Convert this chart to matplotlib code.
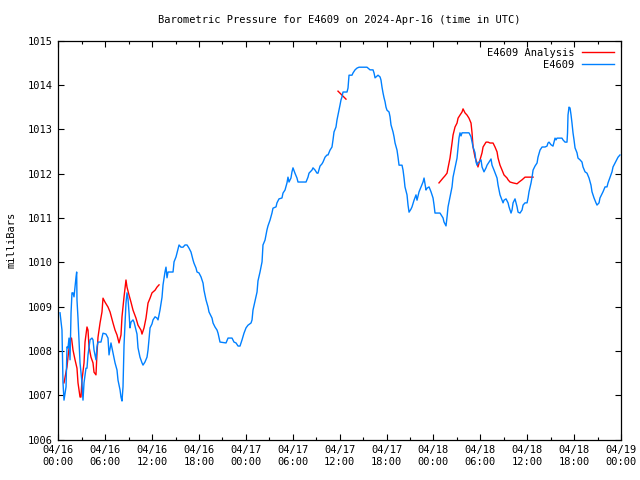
import matplotlib
matplotlib.use("Agg")
import matplotlib.pyplot as plt
from matplotlib.ticker import MultipleLocator

# hours since 2024-04-16 00:00 UTC
obs_hours = [0.22, 0.47, 0.60, 0.73, 0.99, 1.11, 1.24, 1.37, 1.50, 1.63, 1.75, 1.88, 2.01, 2.27, 2.35, 2.39, 2.52, 2.78,
             3.03, 3.16, 3.29, 3.54, 3.67, 3.80, 4.06, 4.31, 4.44, 4.57, 4.82, 4.95, 5.08, 5.46, 5.72, 6.10, 6.36, 6.49,
             6.74, 7.00, 7.26, 7.51, 7.64, 7.90, 8.02, 8.15, 8.28, 8.41, 8.66, 8.79, 8.92, 9.05, 9.17, 9.30, 9.56, 9.69,
             9.82, 10.07, 10.20, 10.45, 10.71, 10.84, 11.09, 11.35, 11.48, 11.74, 11.99, 12.12, 12.38, 12.63, 12.76,
             13.01, 13.27, 13.40, 13.65, 13.78, 13.91, 14.04, 14.68, 14.81, 15.06, 15.19, 15.45, 15.70, 15.96, 16.21,
             16.47, 16.72, 16.98, 17.24, 17.36, 17.62, 17.75, 18.00, 18.26, 18.52, 18.64, 18.90, 19.16, 19.28, 19.67,
             19.80, 20.05, 20.31, 20.44, 20.69, 21.46, 21.72, 22.23, 22.48, 22.74, 23.00, 23.25, 23.51, 23.76, 24.02,
             24.27, 24.66, 24.79, 24.91, 25.17, 25.43, 25.55, 25.81, 26.07, 26.19, 26.45, 26.70, 26.83, 27.09, 27.34,
             27.47, 27.86, 27.98, 28.24, 28.62, 28.75, 29.01, 29.26, 29.39, 29.52, 29.77, 29.90, 30.03, 30.28, 30.54,
             30.67, 31.70, 31.95, 32.08, 32.46, 32.59, 32.85, 33.10, 33.23, 33.49, 33.74, 33.87, 34.13, 34.38, 34.51,
             34.77, 35.02, 35.15, 35.28, 35.53, 35.66, 35.79, 35.92, 36.05, 36.17, 36.30, 36.43, 36.94, 37.07, 37.20,
             37.58, 37.71, 37.97, 38.22, 38.48, 39.50, 39.63, 39.89, 40.27, 40.40, 40.53, 40.78, 40.91, 41.17, 41.29,
             41.42, 41.55, 41.68, 41.81, 41.93, 42.06, 42.32, 42.45, 42.57, 42.83, 42.96, 43.09, 43.34, 43.47, 43.60,
             43.98, 44.11, 44.24, 44.36, 44.62, 44.75, 44.88, 45.13, 45.26, 45.52, 45.77, 45.90, 46.16, 46.41, 46.67,
             46.80, 47.05, 47.18, 47.44, 47.69, 47.95, 48.08, 48.20, 48.84, 49.23, 49.35, 49.61, 49.74, 49.87, 50.12,
             50.38, 50.51, 50.76, 51.02, 51.15, 51.27, 51.40, 51.53, 51.66, 52.55, 52.81, 52.94, 53.07, 53.32, 53.45,
             53.58, 53.70, 53.83, 54.09, 54.22, 54.47, 54.73, 54.86, 55.11, 55.37, 55.50, 55.75, 56.14, 56.27, 56.52,
             56.78, 56.91, 57.03, 57.29, 57.55, 57.67, 57.93, 58.06, 58.19, 58.44, 58.70, 58.83, 59.08, 59.34, 59.47,
             59.72, 59.98, 60.11, 60.23, 60.49, 60.62, 60.75, 61.00, 61.26, 61.38, 61.64, 61.90, 62.28, 62.53, 62.66,
             62.79, 63.05, 63.30, 63.43, 63.56, 63.69, 63.81, 64.45, 64.58, 64.84, 65.09, 65.16, 65.22, 65.35, 65.48,
             65.61, 65.73, 65.86, 65.99, 66.12, 66.37, 66.50, 66.76, 67.01, 67.14, 67.40, 67.65, 67.91, 68.16, 68.29,
             68.55, 68.80, 68.93, 69.19, 69.31, 69.70, 69.96, 70.21, 70.34, 70.60, 70.85, 70.98, 71.24, 71.49, 71.62,
             71.87]
obs_mbar = [1008.86, 1008.47, 1007.28, 1006.89, 1007.19, 1008.09, 1008.07, 1008.29, 1007.80, 1008.86, 1009.31, 1009.31,
            1009.22, 1009.67, 1009.78, 1009.15, 1008.74, 1007.73, 1007.28, 1006.89, 1007.28, 1007.61, 1007.61, 1007.91,
            1008.25, 1008.29, 1008.25, 1008.02, 1007.80, 1008.09, 1008.20, 1008.20, 1008.40, 1008.38, 1008.29, 1007.91,
            1008.18, 1007.95, 1007.73, 1007.57, 1007.34, 1007.12, 1006.96, 1006.87, 1007.19, 1008.13, 1009.08, 1009.31,
            1009.17, 1008.86, 1008.52, 1008.65, 1008.70, 1008.65, 1008.56, 1008.38, 1008.07, 1007.86, 1007.73, 1007.68,
            1007.75, 1007.86, 1008.02, 1008.52, 1008.61, 1008.70, 1008.77, 1008.74, 1008.70, 1008.92, 1009.21, 1009.49,
            1009.78, 1009.89, 1009.65, 1009.78, 1009.78, 1010.01, 1010.12, 1010.21, 1010.39, 1010.34, 1010.34, 1010.39,
            1010.39, 1010.32, 1010.23, 1010.05, 1009.98, 1009.87, 1009.78, 1009.76, 1009.67, 1009.53, 1009.37, 1009.15,
            1008.99, 1008.88, 1008.74, 1008.63, 1008.54, 1008.47, 1008.40, 1008.20, 1008.18, 1008.29, 1008.29, 1008.20,
            1008.18, 1008.11, 1008.11, 1008.25, 1008.40, 1008.52, 1008.58, 1008.63, 1008.70, 1008.92, 1009.13, 1009.33,
            1009.58, 1009.78, 1010.01, 1010.39, 1010.50, 1010.73, 1010.82, 1010.95, 1011.11, 1011.22, 1011.25, 1011.34,
            1011.43, 1011.45, 1011.56, 1011.63, 1011.79, 1011.92, 1011.81, 1011.90, 1012.04, 1012.13, 1012.01, 1011.90,
            1011.81, 1011.81, 1011.92, 1012.01, 1012.08, 1012.13, 1012.08, 1012.01, 1012.01, 1012.17, 1012.22, 1012.26,
            1012.37, 1012.42, 1012.42, 1012.53, 1012.60, 1012.76, 1012.94, 1013.05, 1013.21, 1013.32, 1013.43, 1013.55,
            1013.66, 1013.73, 1013.84, 1013.84, 1013.93, 1014.22, 1014.22, 1014.27, 1014.34, 1014.38, 1014.40, 1014.40,
            1014.38, 1014.34, 1014.34, 1014.27, 1014.16, 1014.20, 1014.22, 1014.18, 1014.11, 1013.95, 1013.82, 1013.71,
            1013.62, 1013.50, 1013.43, 1013.39, 1013.28, 1013.10, 1012.94, 1012.83, 1012.69, 1012.53, 1012.37, 1012.19,
            1012.19, 1012.08, 1011.90, 1011.70, 1011.52, 1011.29, 1011.13, 1011.20, 1011.25, 1011.40, 1011.52, 1011.40,
            1011.59, 1011.70, 1011.81, 1011.90, 1011.63, 1011.67, 1011.70, 1011.59, 1011.45, 1011.29, 1011.11, 1011.11,
            1011.00, 1010.91, 1010.82, 1011.02, 1011.25, 1011.47, 1011.70, 1011.92, 1012.13, 1012.35, 1012.58, 1012.80,
            1012.92, 1012.85, 1012.92, 1012.92, 1012.83, 1012.71, 1012.60, 1012.47, 1012.26, 1012.19, 1012.24, 1012.26,
            1012.31, 1012.15, 1012.04, 1012.13, 1012.19, 1012.26, 1012.33, 1012.19, 1012.08, 1011.90, 1011.74, 1011.52,
            1011.40, 1011.34, 1011.40, 1011.43, 1011.34, 1011.25, 1011.11, 1011.18, 1011.34, 1011.43, 1011.25, 1011.13,
            1011.11, 1011.18, 1011.29, 1011.34, 1011.34, 1011.45, 1011.59, 1011.79, 1011.92, 1012.08, 1012.17, 1012.24,
            1012.37, 1012.53, 1012.60, 1012.60, 1012.62, 1012.69, 1012.71, 1012.65, 1012.62, 1012.71, 1012.80, 1012.76,
            1012.80, 1012.80, 1012.76, 1012.71, 1012.71, 1012.92, 1013.32, 1013.50, 1013.48, 1013.32, 1013.14, 1012.92,
            1012.76, 1012.58, 1012.47, 1012.35, 1012.31, 1012.26, 1012.15, 1012.04, 1012.01, 1011.90, 1011.74, 1011.59,
            1011.45, 1011.34, 1011.29, 1011.34, 1011.45, 1011.59, 1011.70, 1011.70, 1011.79, 1011.92, 1012.04, 1012.15,
            1012.24, 1012.33, 1012.37, 1012.42]

# analysis series, three separate pieces
ana1_hours = [0.73, 1.11, 1.24, 1.50, 1.69, 1.88, 2.14, 2.39, 2.52, 2.78, 2.90, 3.03, 3.29, 3.42, 3.67, 3.80, 3.93,
              4.18, 4.44, 4.57, 4.82, 4.95, 5.08, 5.34, 5.59, 5.72, 5.98, 6.36, 6.62, 7.00, 7.26, 7.51, 7.77, 8.02,
              8.15, 8.41, 8.66, 8.79, 9.05, 9.30, 9.56, 9.94, 10.20, 10.58, 10.71, 10.97, 11.22, 11.48, 11.74, 11.99,
              12.38, 12.63, 12.89]
ana1_mbar = [1007.28, 1007.64, 1007.86, 1008.25, 1008.29, 1008.02, 1007.80, 1007.61, 1007.28, 1006.96, 1006.96,
             1007.34, 1007.73, 1008.20, 1008.54, 1008.47, 1008.09, 1007.86, 1007.73, 1007.52, 1007.46, 1007.95, 1008.31,
             1008.63, 1008.88, 1009.19, 1009.10, 1008.99, 1008.88, 1008.63, 1008.47, 1008.36, 1008.18, 1008.36, 1008.77,
             1009.22, 1009.60, 1009.44, 1009.26, 1009.10, 1008.92, 1008.74, 1008.58, 1008.47, 1008.38, 1008.52, 1008.74,
             1009.08, 1009.19, 1009.31, 1009.37, 1009.44, 1009.49]
ana2_hours = [35.79, 36.30, 36.81]
ana2_mbar = [1013.86, 1013.77, 1013.68]
ana3_hours = [48.71, 49.23, 49.48, 49.74, 49.87, 50.12, 50.38, 50.51, 50.76, 51.02, 51.15, 51.40, 51.66, 51.79, 52.04,
              52.30, 52.55, 52.81, 52.94, 53.07, 53.32, 53.58, 53.70, 53.96, 54.22, 54.35, 54.73, 54.99, 55.24, 55.63,
              55.88, 56.14, 56.27, 56.52, 56.78, 57.03, 57.42, 57.55, 57.80, 58.19, 58.70, 58.96, 59.34, 59.72, 60.75]
ana3_mbar = [1011.79, 1011.90, 1011.95, 1012.01, 1012.13, 1012.35, 1012.69, 1012.87, 1013.05, 1013.14, 1013.25,
             1013.32, 1013.39, 1013.46, 1013.37, 1013.32, 1013.25, 1013.14, 1012.92, 1012.60, 1012.37, 1012.24, 1012.15,
             1012.31, 1012.47, 1012.60, 1012.71, 1012.71, 1012.69, 1012.69, 1012.60, 1012.49, 1012.35, 1012.19, 1012.08,
             1011.97, 1011.90, 1011.86, 1011.81, 1011.79, 1011.77, 1011.81, 1011.86, 1011.92, 1011.92]

x_tick_hours = [0, 6, 12, 18, 24, 30, 36, 42, 48, 54, 60, 66, 72]
x_tick_labels = ["04/16\n00:00", "04/16\n06:00", "04/16\n12:00", "04/16\n18:00",
                 "04/17\n00:00", "04/17\n06:00", "04/17\n12:00", "04/17\n18:00",
                 "04/18\n00:00", "04/18\n06:00", "04/18\n12:00", "04/18\n18:00", "04/19\n00:00"]
y_ticks = [1006, 1007, 1008, 1009, 1010, 1011, 1012, 1013, 1014, 1015]

FONT = "DejaVu Sans Mono"
plt.rcParams["font.family"] = FONT
plt.rcParams["font.size"] = 7

fig = plt.figure(figsize=(6.4, 4.8), dpi=100)
ax = fig.add_axes([0.0911, 0.0842, 0.9703 - 0.0911, 0.9154 - 0.0842])

red = "#ff0000"
blue = "#0080ff"
ax.plot(ana1_hours, ana1_mbar, color=red, lw=1.0, label="E4609 Analysis", zorder=2)
ax.plot(ana2_hours, ana2_mbar, color=red, lw=1.0, zorder=2)
ax.plot(ana3_hours, ana3_mbar, color=red, lw=1.0, zorder=2)
ax.plot(obs_hours, obs_mbar, color=blue, lw=1.0, label="E4609", zorder=3)

ax.set_xlim(0, 72)
ax.set_ylim(1006, 1015)
ax.set_xticks(x_tick_hours)
ax.set_xticklabels(x_tick_labels)
ax.xaxis.set_minor_locator(MultipleLocator(3))
ax.set_yticks(y_ticks)
ax.set_yticklabels([str(v) for v in y_ticks])
ax.tick_params(axis="both", which="major", direction="in", length=4.5, width=0.8,
               top=True, right=True, labelsize=7.5, pad=4)
ax.tick_params(axis="x", which="minor", direction="in", length=2.5, width=0.8, top=True)
for s in ax.spines.values():
    s.set_linewidth(0.9)

ax.set_ylabel("milliBars", fontsize=7.5, labelpad=8)
ax.set_title("Barometric Pressure for E4609 on 2024-Apr-16 (time in UTC)", fontsize=7.5, pad=13)

leg = ax.legend(loc="upper right", frameon=False, markerfirst=False, handlelength=3.0,
                fontsize=7.5, borderaxespad=0.3, labelspacing=0.2, handletextpad=0.8)
for t in leg.get_texts():
    t.set_ha("right")

fig.savefig("out.png", dpi=100)
